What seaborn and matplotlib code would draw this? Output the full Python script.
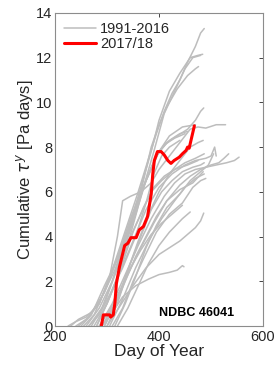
import seaborn as sns
import pandas as pd
import matplotlib
matplotlib.use('Agg')
import matplotlib.pyplot as plt
from matplotlib.lines import Line2D

# cumulative tau^y curves, 1991-2016 (day of year, Pa days)
gray_curves = [
    [(255,0),(275,0.5),(300,1.8),(320,3.2),(340,4.6),(360,6.0),(380,7.5),(395,8.6),(410,9.6),(425,10.4),(440,11.0),(455,11.8),(470,12.5),(480,13.1),(487,13.3)],
    [(265,0),(290,0.8),(310,2.0),(330,3.5),(350,5.0),(370,6.6),(385,7.8),(400,9.2),(420,10.5),(440,11.3),(460,12.0),(475,12.1),(484,12.15)],
    [(270,0),(295,1.0),(320,2.6),(345,4.4),(365,6.0),(385,8.0),(400,9.0),(415,9.8),(435,10.6),(455,11.2),(470,11.5),(476,11.6)],
    [(280,0),(300,1.0),(325,2.5),(350,4.5),(370,6.2),(390,7.8),(410,9.5),(430,10.5),(450,11.5),(465,12.0),(480,12.1)],
    [(240,0),(260,0.3),(285,1.0),(305,2.2),(320,4.0),(330,5.6),(345,5.8),(365,6.0),(385,6.4),(400,7.0),(420,7.6),(440,8.2),(460,8.8),(475,8.9),(490,8.85),(510,9.0),(528,9.0)],
    [(260,0),(285,0.8),(310,2.0),(335,3.6),(355,5.0),(375,6.5),(395,7.6),(415,8.2),(435,8.5),(455,8.8),(470,9.2),(480,9.6),(486,9.75)],
    [(275,0),(300,1.0),(325,2.4),(350,3.8),(375,5.2),(400,6.2),(425,6.8),(450,7.2),(470,7.4),(490,7.5),(500,7.6),(507,8.0),(510,7.6)],
    [(285,0),(310,1.0),(335,2.3),(360,3.6),(385,4.8),(410,5.8),(430,6.4),(450,6.8),(470,7.0),(490,7.1),(510,7.2),(530,7.3),(545,7.4),(554,7.55)],
    [(290,0),(315,1.0),(340,2.3),(365,3.5),(390,4.6),(415,5.6),(440,6.3),(460,6.7),(480,7.0),(500,7.2),(515,7.3),(525,7.5),(534,7.7)],
    [(300,0),(325,0.9),(350,1.8),(375,2.6),(400,3.2),(420,3.5),(440,3.8),(455,4.1),(470,4.4),(480,4.7),(486,5.05)],
    [(290,0),(310,0.6),(330,1.3),(355,1.8),(380,2.1),(400,2.3),(420,2.4),(435,2.5),(445,2.7),(448,2.65)],
    [(245,0),(265,0.4),(290,1.3),(315,2.5),(335,3.8),(355,5.2),(370,6.2),(385,7.1),(400,7.8),(420,8.3),(440,8.6),(455,8.7)],
    [(300,0),(320,1.0),(345,2.8),(365,4.0),(385,5.2),(405,6.0),(425,6.5),(445,6.9),(465,7.1),(480,7.2),(487,7.3)],
    [(305,0),(330,1.2),(355,2.6),(380,3.8),(405,4.8),(430,5.6),(450,6.2),(470,6.6),(487,6.8)],
    [(295,0),(320,1.2),(340,2.5),(360,3.8),(380,5.0),(400,6.0),(420,6.8),(440,7.4),(460,8.0),(475,8.2),(485,8.3)],
    [(230,0),(245,0.3),(270,0.6),(295,1.5),(320,3.0),(340,4.3),(360,5.6),(380,6.8),(395,7.6),(410,8.1),(430,8.4),(450,8.6)],
    [(310,0),(330,0.8),(350,2.0),(370,3.0),(395,4.2),(420,5.0),(445,5.5),(465,6.2),(480,6.5),(490,6.6)],
    [(225,0),(240,0.2),(260,0.4),(285,1.0),(305,2.2),(325,3.4),(345,4.8),(365,6.0),(385,7.0),(400,7.8),(420,8.5),(445,8.9),(470,9.0)],
    [(315,0),(335,1.0),(355,2.2),(375,3.5),(395,4.5),(415,5.3),(440,5.9),(460,6.5),(480,6.9),(495,7.2),(505,7.7)],
    [(280,0),(305,1.3),(330,2.8),(350,4.2),(370,5.3),(390,6.2),(410,6.7),(430,7.0),(450,7.3),(470,7.5),(487,7.7)],
    [(250,0),(270,0.5),(295,1.8),(320,3.0),(345,4.0),(365,5.0),(385,6.0),(405,6.5),(430,7.0),(455,7.2),(475,7.4)],
    [(320,0),(340,0.8),(360,1.8),(380,2.8),(400,3.6),(420,4.2),(445,4.8),(460,5.1)],
    [(265,0),(285,0.5),(305,1.4),(330,2.6),(355,4.0),(375,5.5),(390,6.8),(405,7.6),(420,8.0),(440,8.3)],
    [(285,0),(305,0.7),(325,1.6),(345,2.6),(365,3.4),(385,4.1),(405,4.6),(425,5.0),(445,5.4)],
    [(295,0),(315,0.9),(335,2.0),(355,3.1),(375,4.0),(395,4.9),(415,5.6),(440,6.1),(465,6.4),(485,6.9)],
]

# 2017/18 season
red_day = [289,293,300,305,307,312,315,318,324,334,340,346,356,362,370,378,385,388,391,397,404,410,417,423,429,439,445,452,455,458,460,464,468]
red_val = [0,0.5,0.5,0.5,0.4,0.5,1.0,1.9,2.65,3.6,3.7,3.95,3.95,4.3,4.45,4.9,5.9,6.8,7.4,7.8,7.8,7.65,7.4,7.27,7.4,7.55,7.7,7.85,8.0,7.95,8.15,8.55,8.95]

rows = []
for i, c in enumerate(gray_curves):
    for d, v in c:
        rows.append({'year': i, 'day': d, 'val': v})
df = pd.DataFrame(rows)
red = pd.DataFrame({'day': red_day, 'val': red_val})

sns.set_style('white')
plt.rcParams['font.family'] = ['Liberation Sans', 'DejaVu Sans']
plt.rcParams['mathtext.fontset'] = 'dejavusans'

gray = '#bdbdbd'
fig = plt.figure(figsize=(2.78, 3.68), dpi=100)
ax = fig.add_axes([0.198, 0.114, 0.748, 0.851])

sns.lineplot(data=df, x='day', y='val', units='year', estimator=None, sort=False,
             color=gray, linewidth=1.1, ax=ax, legend=False)
sns.lineplot(data=red, x='day', y='val', estimator=None, sort=False,
             color='#ff0000', linewidth=2.2, ax=ax, legend=False)

ax.set_xlim(200, 600)
ax.set_ylim(0, 14)
ax.set_xticks([200, 400, 600])
ax.set_yticks(range(0, 15, 2))
ax.tick_params(direction='in', length=3, width=0.6, color='#262626', labelsize=10.5,
               labelcolor='#262626', top=True, right=True, pad=2)
ax.tick_params(axis='x', pad=3)
for s in ax.spines.values():
    s.set_color('#8c8c8c')
    s.set_linewidth(0.8)
ax.set_xlabel('Day of Year', fontsize=12.5, color='#262626', labelpad=0)
ax.set_ylabel(r'Cumulative $\tau^y$ [Pa days]', fontsize=12, color='#262626', labelpad=1)

handles = [Line2D([], [], color=gray, linewidth=1.1),
           Line2D([], [], color='#ff0000', linewidth=2.2)]
ax.legend(handles, ['1991-2016', '2017/18'], loc='upper left', frameon=False,
          fontsize=10.5, handlelength=2.2, handletextpad=0.3, borderaxespad=0.2,
          labelspacing=0.1, labelcolor='#262626')
ax.text(545, 0.6, 'NDBC 46041', ha='right', va='center', fontsize=9,
        fontweight='bold', color='black')

fig.savefig('out.png', dpi=100)
